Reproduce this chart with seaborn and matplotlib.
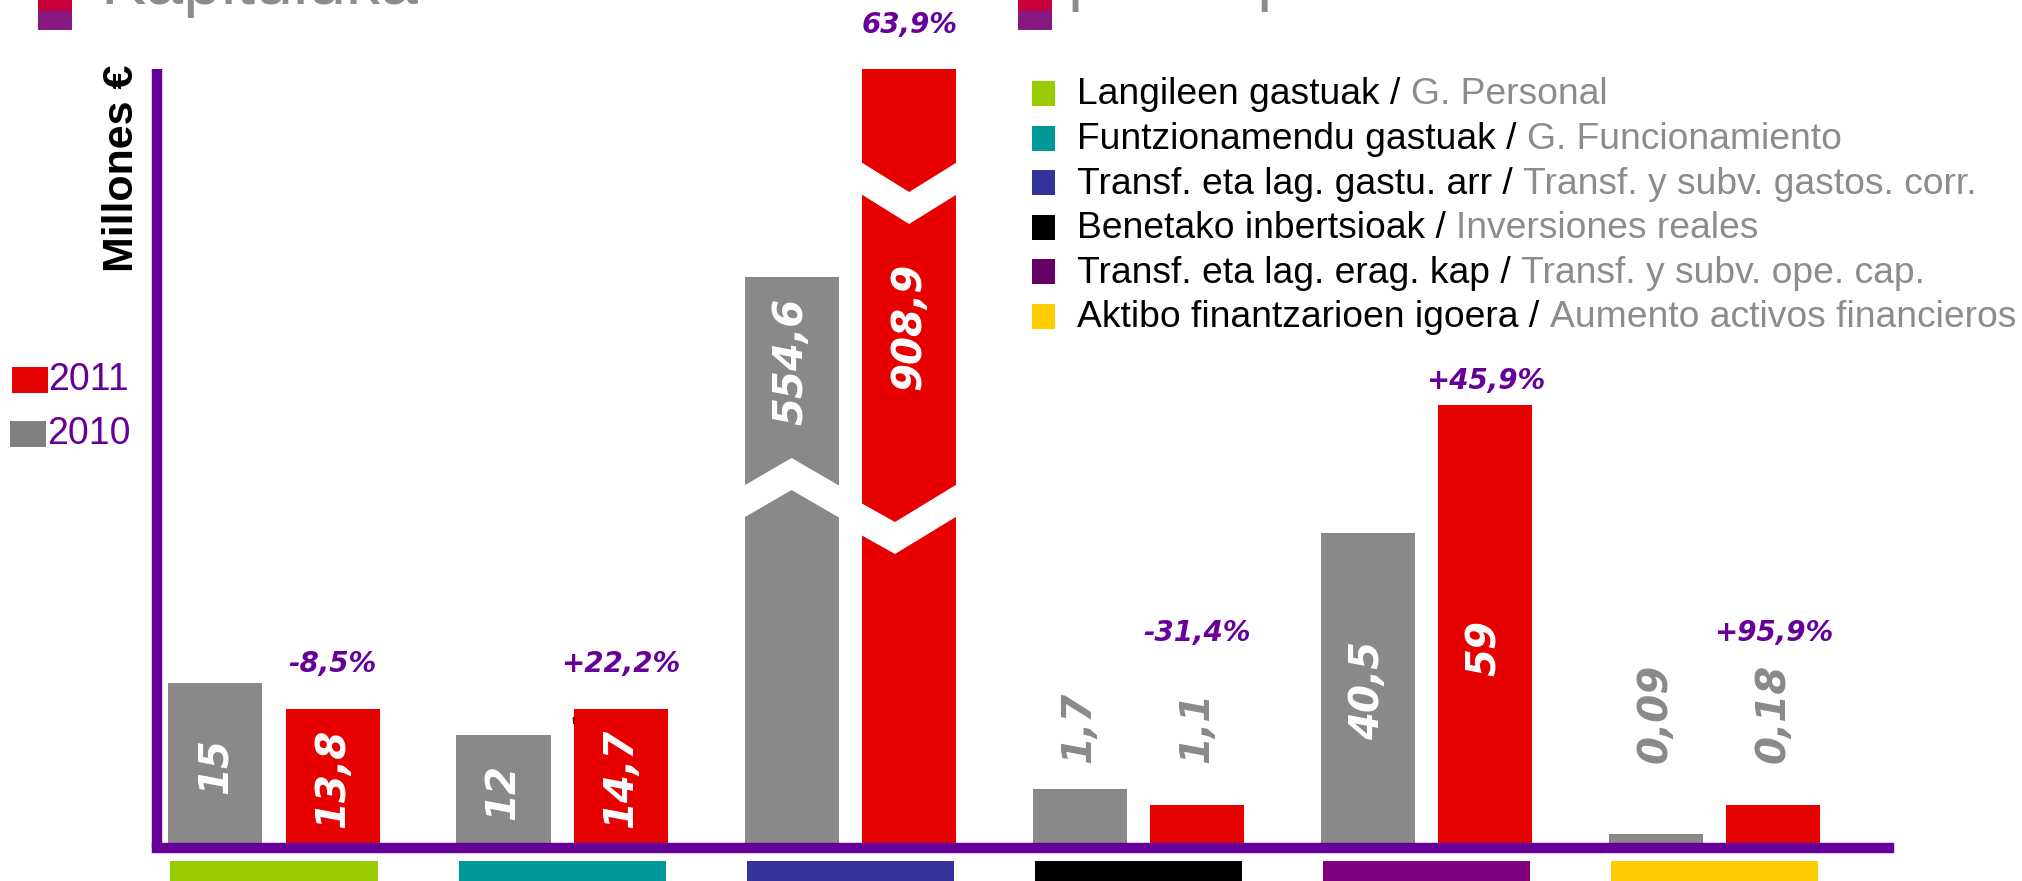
import pandas as pd
import seaborn as sns
import matplotlib.pyplot as plt
from matplotlib.patches import Rectangle, Polygon

# Spending by chapter (millones de euros), 2010 vs 2011
chapters_eu = ["Langileen gastuak", "Funtzionamendu gastuak", "Transf. eta lag. gastu. arr",
               "Benetako inbertsioak", "Transf. eta lag. erag. kap", "Aktibo finantzarioen igoera"]
chapters_es = ["G. Personal", "G. Funcionamiento", "Transf. y subv. gastos. corr.",
               "Inversiones reales", "Transf. y subv. ope. cap.", "Aumento activos financieros"]
years = ["2010", "2011"]
values_2010 = [15, 12, 554.6, 1.7, 40.5, 0.09]
values_2011 = [13.8, 14.7, 908.9, 1.1, 59, 0.18]
change_labels = ["-8,5%", "+22,2%", "63,9%", "-31,4%", "+45,9%", "+95,9%"]

# The original chart is not to scale, so these are the bar heights as drawn
# (in pixels above the axis line)
drawn_2010 = [165, 113, 571, 59, 315, 14]
drawn_2011 = [139, 139, 779, 43, 443, 43]

chapter_colors = ["#99CC00", "#009999", "#333399", "#000000", "#800080", "#FFCC00"]
legend_colors = ["#99CC00", "#009999", "#333399", "#000000", "#660066", "#FFCC00"]
GREY = "#8B8987"
RED = "#E60000"
PURPLE = "#660099"
LIGHT_TEXT = "#8C8C8C"

sns.set_style("white")
plt.rcParams['font.family'] = ['Liberation Sans', 'DejaVu Sans']

W, H = 2022, 881
fig = plt.figure(figsize=(W / 100, H / 100), dpi=100)


# helpers to place things in figure pixels (measured from the top-left corner)
def fx(px):
    return px / W


def fy(py):
    return 1 - py / H


ax = fig.add_axes([fx(156.5), fy(848), fx(1889) - fx(156.5), (848 - 69) / H])

df = pd.DataFrame({
    "chapter": chapters_eu * 2,
    "year": ["2010"] * 6 + ["2011"] * 6,
    "value": values_2010 + values_2011,
    "drawn": drawn_2010 + drawn_2011,
})

sns.barplot(data=df, x="chapter", y="drawn", hue="year", order=chapters_eu, hue_order=years,
            palette={"2010": GREY, "2011": RED}, width=0.816, gap=0.2, saturation=1,
            errorbar=None, legend=False, linewidth=0, ax=ax)

ax.set_xlim(-0.4084, 5.6051)
ax.set_ylim(0, 779)
ax.set_xticks([])
ax.set_yticks([])
ax.set_xlabel("")
ax.set_ylabel("")
for side in ["top", "right"]:
    ax.spines[side].set_visible(False)
for side in ["left", "bottom"]:
    ax.spines[side].set_color(PURPLE)
    ax.spines[side].set_linewidth(7.5)
    ax.spines[side].set_zorder(5)
ax.spines["left"].set_capstyle("butt")
ax.spines["bottom"].set_capstyle("projecting")

# white zig-zag cuts on the two huge bars (upper edge: left, vertex, right, vertex position)
cut = 32
breaks = {
    (2, "2010"): [(361, 390, 361, 0.5)],
    (2, "2011"): [(687, 656, 687, 0.5), (346, 326, 365, 0.35)],
}
broken_label_y = {(2, "2010"): 487, (2, "2011"): 522}

bars = {"2010": ax.containers[0], "2011": ax.containers[1]}
vals = {"2010": values_2010, "2011": values_2011}
drawn = {"2010": drawn_2010, "2011": drawn_2011}

small = [h for h in drawn_2010 + drawn_2011 if h < 100]
small_line = max(small) + 26

for year in years:
    for i, bar in enumerate(bars[year]):
        x0 = bar.get_x()
        x1 = x0 + bar.get_width()
        xc = (x0 + x1) / 2
        h = drawn[year][i]
        for left, vert, right, frac in breaks.get((i, year), []):
            xv = x0 + frac * (x1 - x0)
            pad = 0.01
            pts = [(x0 - pad, left), (xv, vert), (x1 + pad, right),
                   (x1 + pad, right - cut), (xv, vert - cut), (x0 - pad, left - cut)]
            ax.add_patch(Polygon(pts, closed=True, facecolor="white", edgecolor="none", zorder=3))

        label = f"{vals[year][i]:g}".replace(".", ",")
        if (i, year) in broken_label_y:
            y, color, va = broken_label_y[(i, year)], "white", "center"
        elif h < 100:
            y, color, va = small_line, GREY, "bottom"
        else:
            y, color, va = min(h / 2, 200), "white", "center"
        ax.text(xc, y, label, rotation=90, ha="center", va=va, color=color, fontsize=29,
                fontweight="bold", fontstyle="italic", family="DejaVu Sans", zorder=4)

# change 2010 -> 2011 above each pair (gap above the red bar, as drawn)
change_gap = [45, 45, 44, 0, 24, 0]
for i, bar in enumerate(bars["2011"]):
    xc = bar.get_x() + bar.get_width() / 2
    if drawn_2010[i] < 100 and drawn_2011[i] < 100:
        y = small_line + 130
    else:
        y = drawn_2011[i] + change_gap[i]
    ax.text(xc, y, change_labels[i], ha="center", va="center", color=PURPLE, fontsize=20,
            fontweight="bold", fontstyle="italic", family="DejaVu Sans", zorder=4)

# coloured blocks under the axis that key each chapter
for i, c in enumerate(chapter_colors):
    ax.add_patch(Rectangle((i - 0.36, -0.0167), 0.72, -0.06, transform=ax.get_xaxis_transform(),
                           facecolor=c, edgecolor="none", clip_on=False))

# chapter legend (Basque / Spanish)
row0, row_step = 81, 44.6
for k, (eu, es, c) in enumerate(zip(chapters_eu, chapters_es, legend_colors)):
    top = row0 + k * row_step
    fig.patches.append(Rectangle((fx(1032), fy(top + 25)), 23 / W, 25 / H,
                                 transform=fig.transFigure, facecolor=c, edgecolor="none"))
    t = fig.text(fx(1077), fy(top + 14), eu + " /", ha="left", va="center", fontsize=26.8,
                 color="black")
    ax.annotate(es, xy=(1, 0), xycoords=t, xytext=(7.4, 0), textcoords="offset points",
                ha="left", va="bottom", fontsize=26.8, color=LIGHT_TEXT)

# year legend
fig.patches.append(Rectangle((fx(12), fy(393)), 36 / W, 26 / H, transform=fig.transFigure,
                             facecolor=RED, edgecolor="none"))
fig.text(fx(48), fy(380), "2011", ha="left", va="center", fontsize=27, color=PURPLE)
fig.patches.append(Rectangle((fx(10), fy(447)), 36 / W, 26 / H, transform=fig.transFigure,
                             facecolor="#808080", edgecolor="none"))
fig.text(fx(47), fy(434), "2010", ha="left", va="center", fontsize=27, color=PURPLE)

fig.text(fx(122), fy(65), "Millones €", rotation=90, ha="center", va="top", fontsize=31,
         fontweight="bold", color="black")

# slide headers cut off at the top edge
for sq_x, head, head_x, base in [(38, "Kapituluka", 100, 4), (1018, "por capítulo", 1068, -2)]:
    fig.patches.append(Rectangle((fx(sq_x), fy(11)), 34 / W, 11 / H, transform=fig.transFigure,
                                 facecolor="#C8003C", edgecolor="none"))
    fig.patches.append(Rectangle((fx(sq_x), fy(30)), 34 / W, 19 / H, transform=fig.transFigure,
                                 facecolor="#861A80", edgecolor="none"))
    fig.text(fx(head_x), fy(base), head, ha="left", va="baseline", fontsize=49, color=LIGHT_TEXT)

# stray character left on the original slide
fig.text(fx(572), fy(721), "t", ha="left", va="center", fontsize=9, color="black",
         family="Liberation Serif")

fig.savefig("out.png", dpi=100)
